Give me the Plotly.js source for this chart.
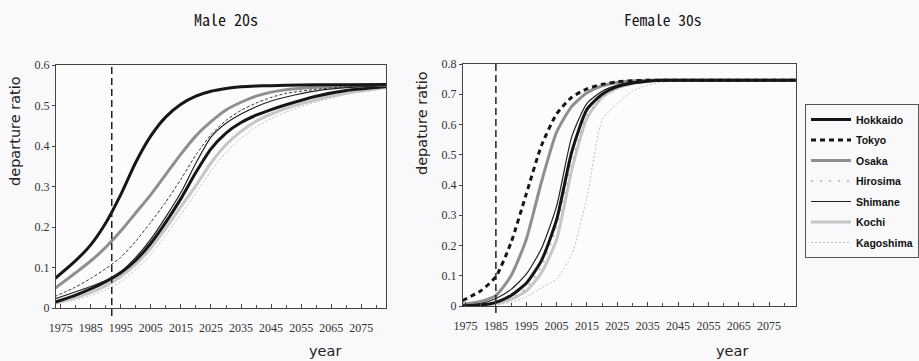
<!DOCTYPE html>
<html>
<head>
<meta charset="utf-8">
<script src="https://cdn.plot.ly/plotly-3.0.1.min.js"></script>
<style>html,body{margin:0;padding:0;background:#f9f9fb;}#chart{width:919px;height:361px;}</style>
</head>
<body>
<div id="chart"></div>
<script>
// ---------- data ----------
const SERIES = ['Hokkaido','Tokyo','Osaka','Hirosima','Shimane','Kochi','Kagoshima'];
const TICK_YEARS = [1975,1985,1995,2005,2015,2025,2035,2045,2055,2065,2075];
const MARK_YEAR_MALE = 1992;
const MARK_YEAR_FEMALE = 1985;

// Male 20s
const YEARS_M = [1973,1980,1985,1990,1995,2000,2005,2010,2015,2020,2025,2030,2035,2040,2045,2050,2060,2070,2084];
const M_HOKKAIDO = [0.072,0.117,0.156,0.21,0.28,0.36,0.425,0.472,0.503,0.523,0.535,0.542,0.546,0.548,0.549,0.55,0.551,0.551,0.552];
const M_TOKYO = [0.028,0.052,0.073,0.097,0.125,0.165,0.212,0.262,0.318,0.378,0.428,0.463,0.488,0.506,0.52,0.53,0.54,0.546,0.55];
const M_OSAKA = [0.048,0.087,0.116,0.15,0.19,0.235,0.28,0.33,0.38,0.425,0.46,0.489,0.508,0.523,0.533,0.539,0.545,0.548,0.55];
const M_HIROSIMA = [0.014,0.032,0.047,0.065,0.087,0.118,0.16,0.212,0.27,0.335,0.393,0.432,0.458,0.476,0.49,0.502,0.523,0.537,0.547];
const M_SHIMANE = [0.022,0.04,0.053,0.068,0.09,0.125,0.17,0.225,0.285,0.358,0.422,0.456,0.479,0.497,0.511,0.521,0.536,0.544,0.549];
const M_KOCHI = [0.012,0.026,0.038,0.055,0.078,0.108,0.148,0.197,0.25,0.302,0.358,0.403,0.436,0.461,0.479,0.493,0.514,0.531,0.545];
const M_KAGOSHIMA = [0.009,0.02,0.03,0.045,0.065,0.095,0.132,0.18,0.232,0.284,0.338,0.384,0.419,0.447,0.467,0.484,0.509,0.527,0.543];

// Female 30s
const YEARS_F = [1974,1980,1985,1990,1995,2000,2005,2010,2015,2020,2025,2030,2035,2040,2050,2060,2070,2084];
const F_HOKKAIDO = [0,0.003,0.012,0.035,0.075,0.15,0.285,0.51,0.65,0.7,0.725,0.737,0.743,0.746,0.746,0.746,0.746,0.746];
const F_TOKYO = [0.018,0.05,0.097,0.21,0.37,0.53,0.635,0.69,0.718,0.733,0.741,0.745,0.746,0.746,0.746,0.746,0.746,0.746];
const F_OSAKA = [0.005,0.015,0.035,0.1,0.22,0.41,0.575,0.66,0.705,0.728,0.739,0.744,0.746,0.746,0.746,0.746,0.746,0.746];
const F_HIROSIMA = [0,0.002,0.008,0.025,0.06,0.13,0.26,0.47,0.63,0.69,0.72,0.735,0.742,0.745,0.746,0.746,0.746,0.746];
const F_SHIMANE = [0.003,0.008,0.025,0.055,0.105,0.19,0.33,0.56,0.67,0.71,0.73,0.74,0.745,0.746,0.746,0.746,0.746,0.746];
const F_KOCHI = [0,0.002,0.008,0.022,0.05,0.11,0.22,0.45,0.62,0.69,0.72,0.735,0.743,0.746,0.746,0.746,0.746,0.746];
const F_KAGOSHIMA = [0,0.001,0.004,0.012,0.03,0.06,0.09,0.17,0.36,0.615,0.67,0.71,0.73,0.74,0.746,0.746,0.746,0.746];

// ---------- styles ----------
const LEGEND_STYLE = {
  Hokkaido: {color:'#161616', width:3},
  Tokyo: {color:'#161616', width:3, dash:'5px,4px'},
  Osaka: {color:'#928f8a', width:3},
  Hirosima: {color:'#b0b0b0', width:1.5, dash:'2px,7px'},
  Shimane: {color:'#222222', width:1.2},
  Kochi: {color:'#c6c6c6', width:3},
  Kagoshima: {color:'#bdbdbd', width:1, dash:'2px,2px'}
};
const MALE_STYLE = {
  Hokkaido: {color:'#161616', width:3},
  Tokyo: {color:'#333333', width:1, dash:'3px,2px'},
  Osaka: {color:'#928f8a', width:3},
  Hirosima: {color:'#161616', width:3},
  Shimane: {color:'#222222', width:1.2},
  Kochi: {color:'#c6c6c6', width:3},
  Kagoshima: {color:'#bdbdbd', width:1, dash:'2px,2px'}
};
const DRAW_ORDER = ['Kagoshima','Kochi','Hirosima','Osaka','Shimane','Hokkaido','Tokyo'];
const MALE = {Hokkaido:M_HOKKAIDO,Tokyo:M_TOKYO,Osaka:M_OSAKA,Hirosima:M_HIROSIMA,Shimane:M_SHIMANE,Kochi:M_KOCHI,Kagoshima:M_KAGOSHIMA};
const FEMALE = {Hokkaido:F_HOKKAIDO,Tokyo:F_TOKYO,Osaka:F_OSAKA,Hirosima:F_HIROSIMA,Shimane:F_SHIMANE,Kochi:F_KOCHI,Kagoshima:F_KAGOSHIMA};

const traces = [];
DRAW_ORDER.forEach(name => {
  traces.push({x:YEARS_M, y:MALE[name], xaxis:'x', yaxis:'y', type:'scatter', mode:'lines',
    line:Object.assign({shape:'spline', smoothing:0.6}, MALE_STYLE[name]), showlegend:false, name:name, hoverinfo:'skip'});
});
DRAW_ORDER.forEach(name => {
  traces.push({x:YEARS_F, y:FEMALE[name], xaxis:'x2', yaxis:'y2', type:'scatter', mode:'lines',
    line:Object.assign({shape:'spline', smoothing:0.6}, LEGEND_STYLE[name]), showlegend:true, name:name,
    legendgroup:name, legendrank: SERIES.indexOf(name)+1, hoverinfo:'skip'});
});

const W = 919, H = 361;
const px = v => v / W, py = v => 1 - v / H;
const tickFont = {family:'Liberation Serif, Times New Roman, serif', size:12, color:'#333'};
function xAxis(domain, range){
  return {domain:domain, range:range, tickvals:TICK_YEARS, ticktext:TICK_YEARS.map(String),
    ticks:'inside', ticklen:4, tickcolor:'#444', ticklabelstandoff:9,
    minor:{dtick:5, tick0:1975, ticks:'inside', ticklen:3, tickcolor:'#555'},
    showgrid:false, zeroline:false, showline:true, linecolor:'#444', linewidth:1, mirror:true,
    tickfont:tickFont, fixedrange:true};
}
function yAxis(domain, range){
  return {domain:domain, range:range, dtick:0.1, ticks:'outside', ticklen:3, tickcolor:'#444',
    showgrid:false, zeroline:false, showline:true, linecolor:'#444', linewidth:1, mirror:true,
    tickfont:tickFont, fixedrange:true};
}
function label(text, x, y, font, angle){
  return {text:text, xref:'paper', yref:'paper', x:px(x), y:py(y), xanchor:'center', yanchor:'middle',
    showarrow:false, textangle:angle || 0, font:font};
}
const titleFont = s => ({family:'Noto Sans Mono CJK JP, Liberation Mono, DejaVu Sans Mono, monospace', size:s, color:'#111'});
const axisTitleFont = {family:'DejaVu Sans, Open Sans, sans-serif', size:14.5, color:'#222'};

const layout = {
  width:W, height:H, margin:{l:0,r:0,t:0,b:0},
  paper_bgcolor:'#f9f9fb', plot_bgcolor:'#fcfcfd',
  xaxis: xAxis([px(56), px(386.7)], [1973.44, 2083.3]),
  yaxis: yAxis([1-308/H, 1-65/H], [0, 0.6]),
  xaxis2: Object.assign(xAxis([px(463.3), px(797)], [1974.1, 2083.9]), {anchor:'y2'}),
  yaxis2: Object.assign(yAxis([1-306/H, 1-64/H], [0, 0.8]), {anchor:'x2'}),
  showlegend:true,
  legend:{x:px(806), y:py(104), xanchor:'left', yanchor:'top', bgcolor:'rgba(0,0,0,0)',
    bordercolor:'#555', borderwidth:1, tracegroupgap:1.5, entrywidth:92, itemwidth:40,
    font:{family:'Liberation Sans, Arial, sans-serif', size:10.5, color:'#111', weight:'bold'}},
  shapes:[
    {type:'line', xref:'x', yref:'paper', x0:MARK_YEAR_MALE, x1:MARK_YEAR_MALE, y0:py(316), y1:py(65),
     line:{color:'#222', width:1.5, dash:'7px,4px'}},
    {type:'line', xref:'x2', yref:'paper', x0:MARK_YEAR_FEMALE, x1:MARK_YEAR_FEMALE, y0:py(313), y1:py(64),
     line:{color:'#222', width:1.5, dash:'7px,4px'}}
  ],
  annotations:[
    label('Male 20s', 226, 19, titleFont(16)),
    label('Female 30s', 664, 19, titleFont(15.5)),
    label('departure ratio', 15, 131, axisTitleFont, -90),
    label('depature ratio', 423, 123.5, axisTitleFont, -90),
    label('year', 325, 351, axisTitleFont),
    label('year', 733, 351, axisTitleFont)
  ]
};

Plotly.newPlot('chart', traces, layout, {staticPlot:true, displayModeBar:false});
</script>
</body>
</html>
